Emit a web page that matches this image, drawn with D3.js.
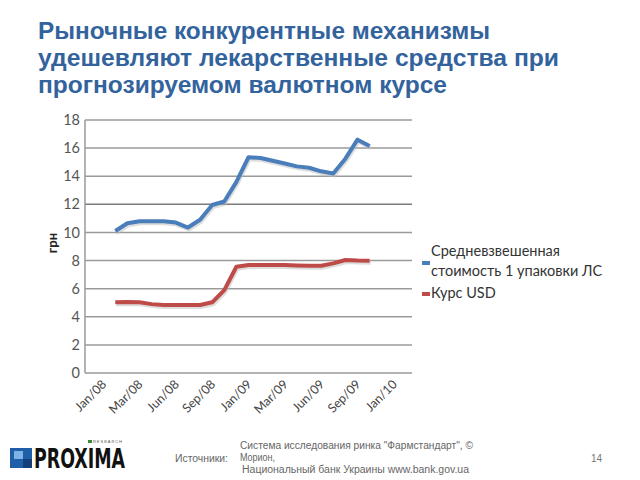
<!DOCTYPE html>
<html><head><meta charset="utf-8">
<script src="https://cdn.jsdelivr.net/npm/d3@7/dist/d3.min.js"></script>
<style>body{margin:0;background:#fff;} svg{display:block;}</style>
</head><body>
<script>
// ---- data ----
const titleLines = ["Рыночные конкурентные механизмы", "удешевляют лекарственные средства при", "прогнозируемом валютном курсе"];
const tickLabels = ["Jan/08","Mar/08","Jun/08","Sep/08","Jan/09","Mar/09","Jun/09","Sep/09","Jan/10"];
const tickCats = [1,4,7,10,13,16,19,22,25];
const pointCats = [2,3,4,5,6,7,8,9,10,11,12,13,14,15,16,17,18,19,20,21,22,23];
const priceValues = [10.1,10.65,10.8,10.8,10.8,10.7,10.35,10.9,11.95,12.2,13.6,15.35,15.3,15.1,14.9,14.7,14.6,14.35,14.2,15.25,16.6,16.15];
const usdValues = [5.03,5.05,5.03,4.9,4.84,4.84,4.84,4.84,5.03,5.9,7.56,7.68,7.68,7.68,7.68,7.65,7.63,7.63,7.8,8.04,8.0,7.99];
const seriesNames = ["Средневзвешенная|стоимость 1 упаковки ЛС", "Курс USD"];
const seriesColors = ["#4A7EBB", "#BE4B48"];
const yTicks = [0,2,4,6,8,10,12,14,16,18];

const W = 640, H = 480;
const svg = d3.select("body").append("svg").attr("width", W).attr("height", H);

// title
const titleWidths = [452, 521, 409];
svg.append("g").selectAll("text").data(titleLines).join("text")
  .attr("x", 38).attr("y", (d,i) => 39 + i*27)
  .attr("font-family", "Liberation Sans, Arial, sans-serif").attr("font-weight", "bold")
  .attr("font-size", 23).attr("fill", "#33639D")
  .attr("textLength", (d,i) => titleWidths[i]).attr("lengthAdjust", "spacingAndGlyphs")
  .text(d => d);

const x = d3.scaleLinear().domain([0, 27]).range([85, 412]);
const y = d3.scaleLinear().domain([0, 18]).range([373, 120]);

// gridlines
svg.append("g").selectAll("line").data(yTicks).join("line")
  .attr("x1", x(0)).attr("x2", x(27)).attr("y1", d => y(d)).attr("y2", d => y(d))
  .attr("stroke", d => d === 12 ? "#7a7a7a" : "#9a9a9a").attr("stroke-width", 1.5);
svg.append("line").attr("x1", x(0)).attr("x2", x(0)).attr("y1", y(18)).attr("y2", y(0))
  .attr("stroke", "#9a9a9a").attr("stroke-width", 1.5);

// y axis labels
const yAxis = d3.axisLeft(y).tickValues(yTicks).tickSize(0).tickPadding(5);
const gy = svg.append("g").attr("transform", `translate(${x(0)},0)`).call(yAxis);
gy.select(".domain").remove();
gy.selectAll("text").attr("font-family", "Lato, sans-serif").attr("font-size", 14.5).attr("fill", "#555");

// y title
svg.append("text").attr("transform", `translate(57,243) rotate(-90)`).attr("text-anchor", "middle")
  .attr("font-family", "Lato, sans-serif").attr("font-weight", "bold").attr("font-size", 13).attr("fill", "#222").text("грн");

// x labels
svg.append("g").selectAll("text").data(tickCats).join("text")
  .attr("transform", d => `translate(${x(d + 0.5) + 4},385) rotate(-45)`)
  .attr("text-anchor", "end").attr("font-family", "Lato, sans-serif").attr("font-size", 12.5).attr("fill", "#444")
  .text((d,i) => tickLabels[i]);

// lines
const line = d3.line().x(d => x(d[0] + 0.5)).y(d => y(d[1])).curve(d3.curveLinear);
[priceValues, usdValues].forEach((vals, k) => {
  const pts = pointCats.map((c, i) => [c, vals[i]]);
  svg.append("path").datum(pts).attr("d", line).attr("fill", "none")
    .attr("stroke", "#bbb").attr("stroke-opacity", 0.5).attr("stroke-width", 4)
    .attr("transform", "translate(1,2)");
  svg.append("path").datum(pts).attr("d", line).attr("fill", "none")
    .attr("stroke", seriesColors[k]).attr("stroke-width", 4).attr("stroke-linejoin", "round");
});

// legend
const legSwatchY = [263, 294];
const legTextY = [[256, 276], [298]];
seriesNames.forEach((name, k) => {
  svg.append("rect").attr("x", 422).attr("y", legSwatchY[k] - 2).attr("width", 8).attr("height", 4).attr("fill", seriesColors[k]);
  name.split("|").forEach((p, j) => {
    svg.append("text").attr("x", 431).attr("y", legTextY[k][j])
      .attr("font-family", "Lato, sans-serif").attr("font-size", 14.5).attr("fill", "#333").text(p);
  });
});

// footer logo
const logo = svg.append("g");
logo.append("rect").attr("x", 10).attr("y", 448).attr("width", 22).attr("height", 20).attr("fill", "#1f5fa8");
logo.append("rect").attr("x", 14).attr("y", 451).attr("width", 9).attr("height", 8).attr("fill", "#7fb2e5");
logo.append("rect").attr("x", 23).attr("y", 459).attr("width", 9).attr("height", 9).attr("fill", "#143f78");
logo.append("text").attr("x", 34).attr("y", 468).attr("font-family", "DejaVu Sans Condensed, sans-serif")
  .attr("font-weight", "bold").attr("font-size", 27).attr("textLength", 91).attr("lengthAdjust", "spacingAndGlyphs")
  .attr("fill", "#111").text("PROXIMA");
logo.append("rect").attr("x", 88).attr("y", 440).attr("width", 4).attr("height", 3).attr("fill", "#3a8a3a");
logo.append("text").attr("x", 93).attr("y", 443).attr("font-family", "Liberation Sans, sans-serif")
  .attr("font-size", 4).attr("textLength", 29).attr("fill", "#555").text("RESEARCH");

// sources
const ff = "Liberation Sans Narrow, Liberation Sans, sans-serif";
svg.append("text").attr("x", 175).attr("y", 462).attr("font-family", ff).attr("font-size", 10).attr("fill", "#666")
  .attr("textLength", 53).attr("lengthAdjust", "spacingAndGlyphs").text("Источники:");
const srcLines = ["Система исследования ринка \"Фармстандарт\", ©", "Морион,", " Национальный банк Украины  www.bank.gov.ua"];
const srcWidths = [233, 35, 227];
svg.append("g").selectAll("text").data(srcLines).join("text")
  .attr("x", (d,i) => i === 2 ? 242 : 240).attr("y", (d,i) => 449 + i*12)
  .attr("font-family", ff).attr("font-size", 10).attr("fill", "#666")
  .attr("textLength", (d,i) => srcWidths[i]).attr("lengthAdjust", "spacingAndGlyphs").text(d => d.trim());
svg.append("text").attr("x", 591).attr("y", 462).attr("font-family", ff).attr("font-size", 10).attr("fill", "#777").text("14");
</script>
</body></html>
